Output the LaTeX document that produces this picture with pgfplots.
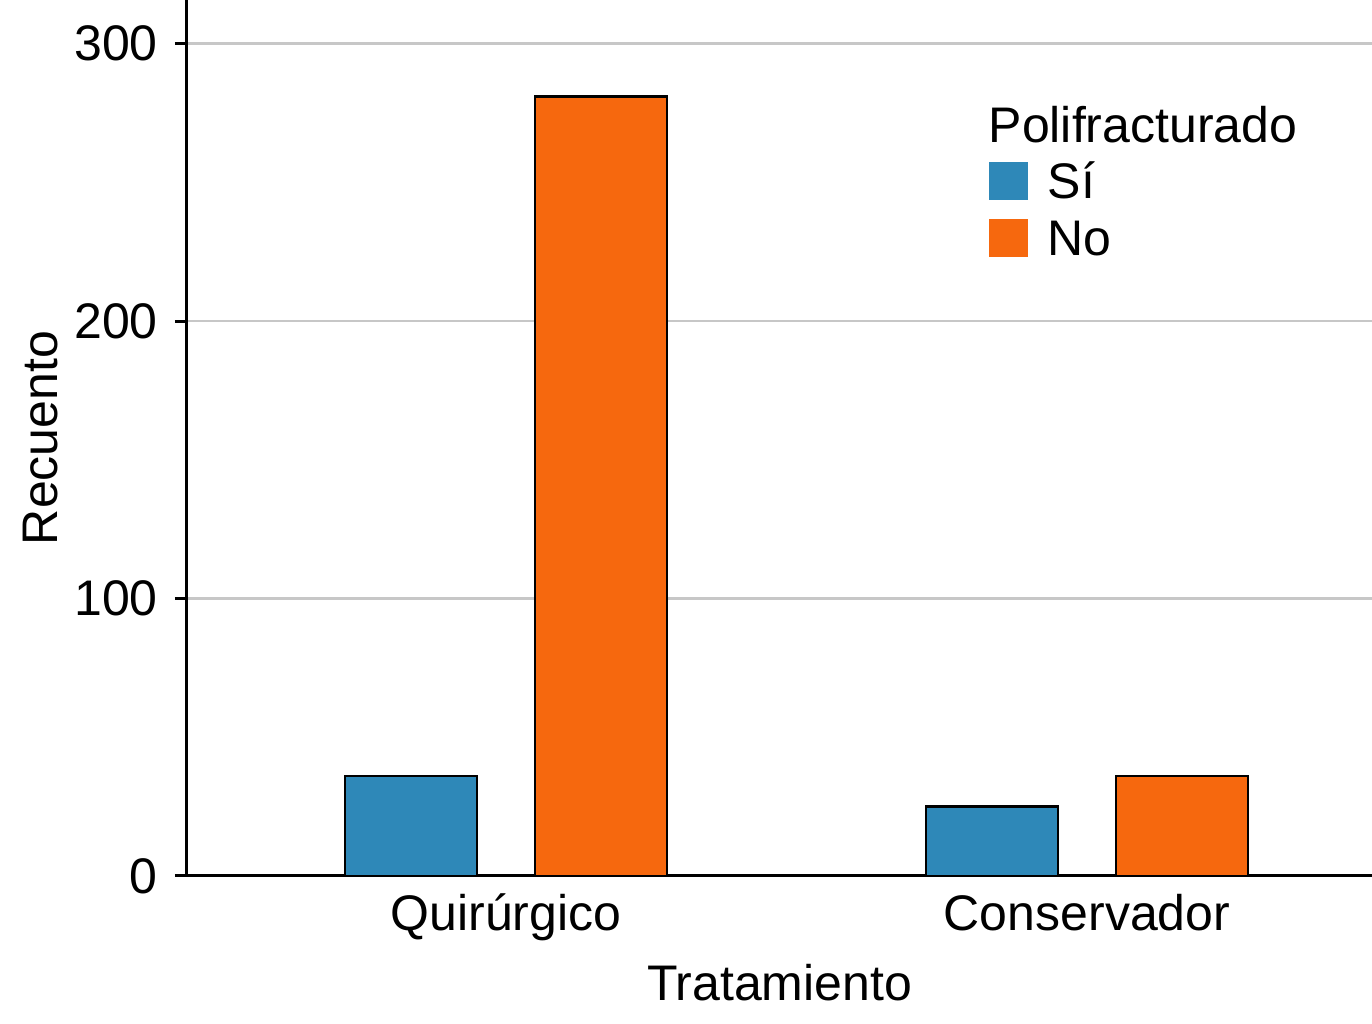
\documentclass[border=0pt]{standalone}
\usepackage{fontspec}
\setmainfont{Liberation Sans}
\usepackage{pgfplots}
\pgfplotsset{compat=1.18}
\definecolor{siblue}{HTML}{2E88B8}
\definecolor{noorange}{HTML}{F6680E}

\begin{document}
\begin{tikzpicture}
\begin{axis}[
    name=ax,
    at={(0,0)}, anchor=south west,
    scale only axis,
    width=296.25pt, height=219pt,
    font=\fontsize{12.5}{15}\selectfont,
    xmin=-0.549, xmax=1.4905,
    ymin=0, ymax=315.7,
    axis x line*=bottom, axis y line*=left,
    axis line style={line width=0.75pt, -},
    xtick={0,1},
    xticklabels={Quirúrgico, Conservador},
    x tick style={draw=none},
    ytick={0,100,200,300},
    y tick style={line width=0.75pt, black},
    tick align=outside, major tick length=3pt,
    ymajorgrids,
    y grid style={line width=0.6pt, color=black!22},
    /pgf/number format/assume math mode=true,
    yticklabel style={anchor=east, inner sep=0pt, xshift=-4.1pt},
    xticklabel style={anchor=base, inner sep=0pt, yshift=-10.6pt},
    xlabel={Tratamiento},
    xlabel style={at={(axis description cs:0.5,0)}, anchor=base, yshift=-31.25pt},
    ylabel={Recuento},
    ylabel style={at={(axis description cs:-0.1089,0.5)}, anchor=base},
    legend cell align=left,
    legend style={at={(axis description cs:0.6759,0.879)}, anchor=north west,
        draw=none, fill=none, inner sep=0pt, row sep=4.75pt, column sep=5pt,
        nodes={inner sep=0pt, text height=9pt, text depth=0pt}},
    legend image code/.code={\fill[#1,draw=none] (0pt,-4.75pt) rectangle (9.75pt,4.75pt);},
]
\addlegendimage{empty legend}
\addlegendentry{\hspace{-14.75pt}Polifracturado}
% Si
\addplot[ybar, bar width=33pt, bar shift=-23.75pt, fill=siblue, draw=black, line width=0.7pt]
    coordinates {(0,36) (1,25)};
\addlegendentry{Sí}
% No
\addplot[ybar, bar width=33pt, bar shift=23.75pt, fill=noorange, draw=black, line width=0.7pt]
    coordinates {(0,281) (1,36)};
\addlegendentry{No}
\end{axis}
\pgfresetboundingbox
\path[use as bounding box] ([shift={(-46.75pt,-37pt)}]ax.south west) rectangle (ax.north east);
\end{tikzpicture}
\end{document}
